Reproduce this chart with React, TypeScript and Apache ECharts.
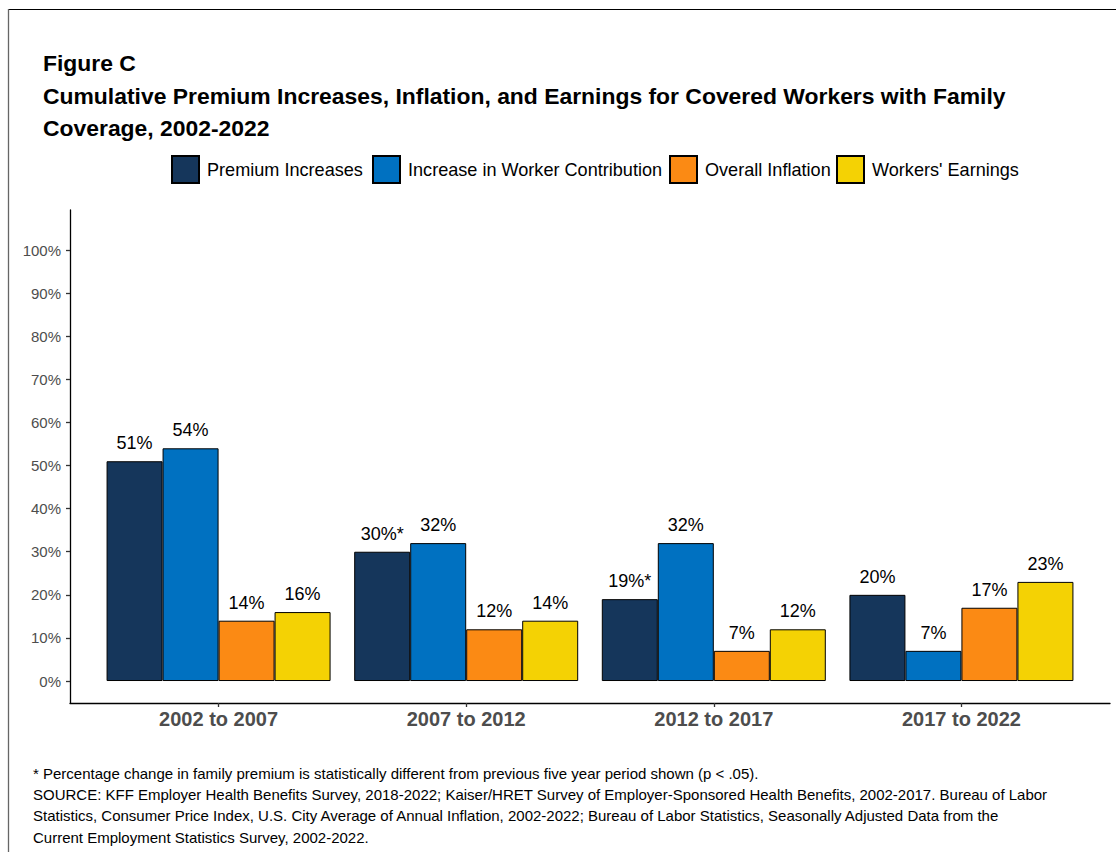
import React, { useEffect, useRef } from "react";
import * as echarts from "echarts";

const categories = ["2002 to 2007", "2007 to 2012", "2012 to 2017", "2017 to 2022"];
const seriesNames = [
  "Premium Increases",
  "Increase in Worker Contribution",
  "Overall Inflation",
  "Workers' Earnings",
];
const premiumIncreases = [51, 30, 19, 20];
const premiumSignificant = [false, true, true, false];
const workerContribution = [54, 32, 32, 7];
const overallInflation = [14, 12, 7, 17];
const workersEarnings = [16, 14, 12, 23];
const yTicks = [0, 10, 20, 30, 40, 50, 60, 70, 80, 90, 100];

const colors = ["#15365b", "#0071c1", "#fb8a14", "#f4d204"];
const legendLefts = [171, 372, 669, 836];

const titleLines = [
  "Figure C",
  "Cumulative Premium Increases, Inflation, and Earnings for Covered Workers with Family",
  "Coverage, 2002-2022",
];
const noteLines = [
  "* Percentage change in family premium is statistically different from previous five year period shown (p < .05).",
  "SOURCE: KFF Employer Health Benefits Survey, 2018-2022; Kaiser/HRET Survey of Employer-Sponsored Health Benefits, 2002-2017. Bureau of Labor",
  "Statistics, Consumer Price Index, U.S. City Average of Annual Inflation, 2002-2022; Bureau of Labor Statistics, Seasonally Adjusted Data from the",
  "Current Employment Statistics Survey, 2002-2022.",
];

const FONT = "Arial, 'Liberation Sans', Helvetica, sans-serif";

export default function App() {
  const ref = useRef<HTMLDivElement>(null);
  useEffect(() => {
    if (!ref.current) return;
    const chart = echarts.init(ref.current, undefined, { renderer: "svg" });
    const allData = [premiumIncreases, workerContribution, overallInflation, workersEarnings];
    const series = allData.map((vals, si) => ({
      name: seriesNames[si],
      type: "bar",
      barWidth: 56,
      barGap: "0%",
      data: vals.map((v, i) => [i, v]),
      itemStyle: { color: colors[si], borderColor: "#000", borderWidth: 1 },
      label: {
        show: true,
        position: "top",
        distance: 9,
        fontFamily: FONT,
        fontSize: 18,
        color: "#000",
        formatter: (p: any) => {
          const i = p.dataIndex;
          return `${vals[i]}%` + (si === 0 && premiumSignificant[i] ? "*" : "");
        },
      },
    }));
    const titleY = [63, 95.5, 128];
    const noteY = [773, 794, 815, 837];
    const option: any = {
      animation: false,
      textStyle: { fontFamily: FONT },
      legend: seriesNames.map((n, i) => ({
        data: [n],
        left: legendLefts[i],
        top: 155,
        padding: 0,
        icon: "rect",
        itemWidth: 27,
        itemHeight: 27,
        itemGap: 0,
        selectedMode: false,
        textStyle: { fontFamily: FONT, fontSize: 18.1, color: "#000", padding: [0, 0, 0, 3] },
      })),
      grid: { left: 70, right: 6, top: 210, bottom: 149, containLabel: false },
      xAxis: {
        type: "value",
        min: -0.6,
        max: 3.6,
        splitLine: { show: false },
        axisLine: { show: true, onZero: false, lineStyle: { color: "#000", width: 1.3 } },
        axisTick: { show: true, length: 4, customValues: [0, 1, 2, 3], lineStyle: { color: "#333", width: 1.3 } },
        axisLabel: {
          show: true,
          customValues: [0, 1, 2, 3],
          formatter: (v: number) => categories[Math.round(v)] ?? "",
          fontFamily: FONT,
          fontSize: 20,
          fontWeight: "bold",
          color: "#4d4d4d",
          margin: 6,
        },
      },
      yAxis: {
        type: "value",
        min: -5.1,
        max: 109.3,
        splitLine: { show: false },
        axisLine: { show: true, onZero: false, lineStyle: { color: "#000", width: 1.3 } },
        axisTick: { show: true, length: 4, customValues: yTicks, lineStyle: { color: "#333", width: 1.3 } },
        axisLabel: {
          show: true,
          customValues: yTicks,
          formatter: (v: number) => `${v}%`,
          fontFamily: FONT,
          fontSize: 15,
          color: "#4d4d4d",
          margin: 9,
        },
      },
      series,
      graphic: [
        { type: "line", shape: { x1: 8, y1: 9.5, x2: 1116, y2: 9.5 }, style: { stroke: "#000", lineWidth: 1 } },
        { type: "line", shape: { x1: 8.5, y1: 9, x2: 8.5, y2: 852 }, style: { stroke: "#666", lineWidth: 1.3 } },
        ...titleLines.map((t, i) => ({
          type: "text",
          x: 43,
          y: titleY[i],
          style: {
            text: t,
            fontFamily: FONT,
            fontSize: 22.9,
            fontWeight: "bold",
            fill: "#000",
            verticalAlign: "middle",
          },
        })),
        ...noteLines.map((t, i) => ({
          type: "text",
          x: 33,
          y: noteY[i],
          style: {
            text: t,
            fontFamily: FONT,
            fontSize: 15,
            fill: "#000",
            verticalAlign: "middle",
          },
        })),
      ],
    };
    chart.setOption(option);
    return () => chart.dispose();
  }, []);
  return (
    <div
      ref={ref}
      style={{ position: "absolute", left: 0, top: 0, width: 1116, height: 852, background: "#fff" }}
    />
  );
}
